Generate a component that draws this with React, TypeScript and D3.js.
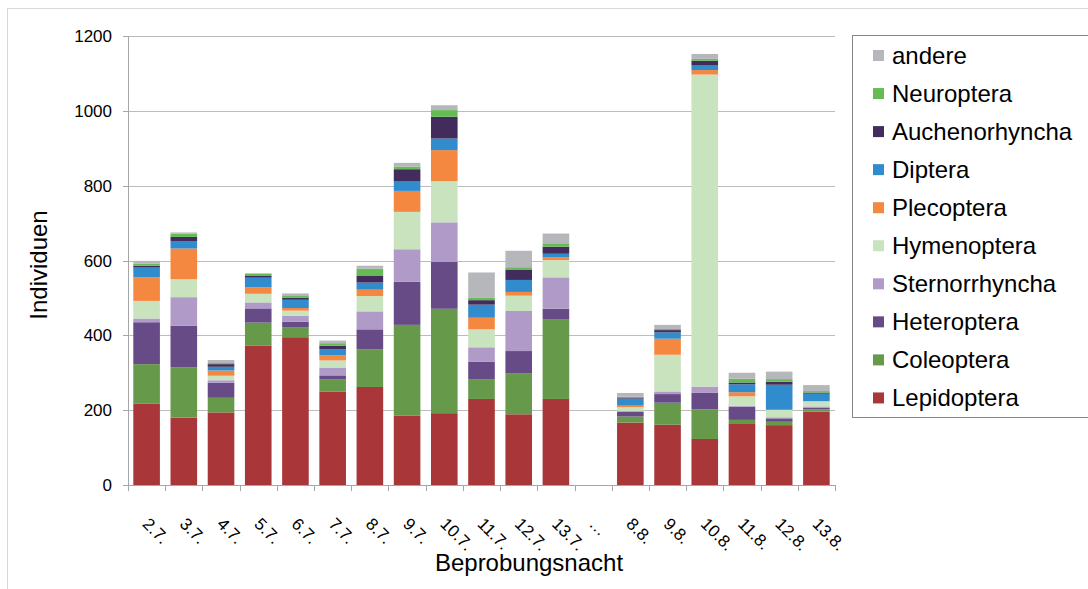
import React from 'react';
import * as d3 from 'd3';

const nights = ['2.7.', '3.7.', '4.7.', '5.7.', '6.7.', '7.7.', '8.7.', '9.7.', '10.7.', '11.7.', '12.7.', '13.7.', '…', '8.8.', '9.8.', '10.8.', '11.8.', '12.8.', '13.8.'];

const lepidoptera = [218, 180, 194, 373, 395, 250, 262, 185, 192, 230, 189, 230, 0, 167, 161, 123, 163, 160, 196];
const coleoptera = [105, 134, 39, 61, 27, 33, 101, 243, 279, 53, 110, 212, 0, 16, 59, 79, 11, 9, 6];
const heteroptera = [112, 112, 40, 38, 14, 10, 53, 115, 125, 46, 59, 29, 0, 13, 23, 45, 35, 9, 5];
const sternorrhyncha = [10, 76, 7, 16, 16, 21, 48, 87, 106, 39, 107, 84, 0, 2, 7, 16, 3, 3, 3];
const hymenoptera = [47, 48, 12, 23, 14, 19, 41, 100, 110, 48, 41, 46, 0, 10, 98, 834, 25, 20, 14];
const plecoptera = [63, 82, 14, 17, 7, 14, 17, 56, 83, 31, 10, 7, 0, 4, 43, 12, 11, 0, 0];
const diptera = [26, 20, 10, 26, 22, 16, 19, 25, 31, 35, 32, 10, 0, 19, 17, 12, 21, 67, 20];
const auchenorhyncha = [5, 11, 7, 6, 6, 9, 19, 33, 58, 12, 28, 19, 0, 3, 6, 13, 5, 8, 3];
const neuroptera = [6, 9, 3, 4, 6, 7, 18, 7, 18, 6, 6, 9, 0, 2, 3, 5, 10, 7, 4];
const andere = [7, 3, 8, 2, 5, 7, 8, 10, 13, 68, 44, 26, 0, 10, 11, 13, 16, 20, 16];

// bottom to top
const seriesNames = ['Lepidoptera', 'Coleoptera', 'Heteroptera', 'Sternorrhyncha', 'Hymenoptera', 'Plecoptera', 'Diptera', 'Auchenorhyncha', 'Neuroptera', 'andere'];
const seriesValues = [lepidoptera, coleoptera, heteroptera, sternorrhyncha, hymenoptera, plecoptera, diptera, auchenorhyncha, neuroptera, andere];
const seriesColors = ['#A9373A', '#67994A', '#664B86', '#B09AC8', '#C8E3BD', '#F48840', '#318CCE', '#422C5C', '#66BB55', '#B6B7BA'];

const yTicks = [0, 200, 400, 600, 800, 1000, 1200];

const FONT = '"Liberation Sans", Arial, sans-serif';

export default function App() {
  const width = 1088;
  const height = 589;
  const x0 = 128, x1 = 835, yBottom = 485, yTop = 36;

  const x = d3.scaleBand<string>()
    .domain(nights)
    .range([x0, x1])
    .paddingInner(0.285)
    .paddingOuter(0.1425);
  const step = x.step();

  const y = d3.scaleLinear().domain([0, 1200]).range([yBottom, yTop]);

  const rows = nights.map((n, i) => {
    const r: Record<string, any> = { night: n };
    seriesNames.forEach((s, j) => { r[s] = seriesValues[j][i]; });
    return r;
  });
  const stacked = d3.stack<any>().keys(seriesNames)(rows);

  const legendOrder = [...seriesNames].reverse();

  return (
    <div style={{ position: 'absolute', left: 0, top: 0 }}>
      <svg width={width} height={height} style={{ display: 'block', fontFamily: FONT }}>
        <rect x={0} y={0} width={width} height={height} fill="#fff" />
        <rect x={7.5} y={8.5} width={1100} height={600} fill="none" stroke="#d9d9d9" />

        {/* gridlines */}
        {yTicks.filter(t => t > 0).map(t => (
          <line key={t} x1={x0} x2={x1} y1={Math.round(y(t)) + 0.5} y2={Math.round(y(t)) + 0.5} stroke="#bcbcbc" strokeWidth={1} />
        ))}

        {/* bars */}
        {stacked.map((layer, j) => (
          <g key={layer.key} fill={seriesColors[j]}>
            {layer.map((d, i) => (d[1] - d[0] > 0 ? (
              <rect key={i} x={x(nights[i])} y={y(d[1])} width={x.bandwidth()} height={y(d[0]) - y(d[1])} />
            ) : null))}
          </g>
        ))}

        {/* y axis */}
        <line x1={x0 + 0.5} x2={x0 + 0.5} y1={yTop} y2={yBottom} stroke="#a6a6a6" />
        {yTicks.map(t => (
          <g key={t}>
            <line x1={x0 - 5} x2={x0} y1={Math.round(y(t)) + 0.5} y2={Math.round(y(t)) + 0.5} stroke="#a6a6a6" />
            <text x={112} y={y(t) + 6} textAnchor="end" fontSize={17} fill="#000">{t}</text>
          </g>
        ))}

        {/* x axis */}
        <line x1={x0} x2={x1} y1={yBottom + 0.5} y2={yBottom + 0.5} stroke="#a6a6a6" />
        {d3.range(nights.length + 1).map(i => (
          <line key={i} x1={Math.round(x0 + i * step) + 0.5} x2={Math.round(x0 + i * step) + 0.5} y1={yBottom} y2={yBottom + 6} stroke="#a6a6a6" />
        ))}
        {nights.map(n => {
          const cx = (x(n) ?? 0) + x.bandwidth() / 2;
          return (
            <text key={n} transform={`translate(${cx - 5},525) rotate(45)`} fontSize={17} fill="#000">{n}</text>
          );
        })}

        {/* axis titles */}
        <text transform="translate(47,265) rotate(-90)" textAnchor="middle" fontSize={24} fill="#000">Individuen</text>
        <text x={529} y={571} textAnchor="middle" fontSize={24} fill="#000">Beprobungsnacht</text>

        {/* legend */}
        <rect x={852.5} y={35.5} width={260} height={382} fill="#fff" stroke="#868686" />
        {legendOrder.map((name, k) => {
          const j = seriesNames.indexOf(name);
          const cy = 55.5 + k * 38.05;
          return (
            <g key={name}>
              <rect x={873} y={cy - 5.5} width={11} height={11} fill={seriesColors[j]} />
              <text x={892} y={cy + 8} fontSize={24} fill="#000">{name}</text>
            </g>
          );
        })}
      </svg>
    </div>
  );
}
